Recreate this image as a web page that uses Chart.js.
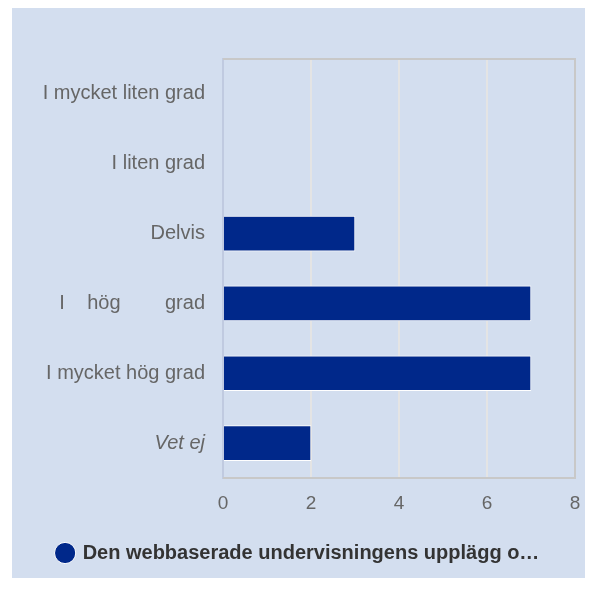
<!DOCTYPE html>
<html lang="sv">
<head>
  <meta charset="UTF-8">
  <title>Webbaserad undervisning</title>
  <style>
    body { margin: 0; background: #ffffff; }
    .panel { position: absolute; left: 12px; top: 8px; width: 573px; height: 570px; background: #d3deef; }
  </style>
</head>
<body>
  <script src="https://cdn.jsdelivr.net/npm/chart.js"></script>

  <div class="panel">
    <canvas id="barChart" width="573" height="570"></canvas>
  </div>

  <script>
    const kategorier = ['I mycket liten grad', 'I liten grad', 'Delvis', 'I    hög        grad', 'I mycket hög grad', 'Vet ej'];
    const antal = [0, 0, 3, 7, 7, 2];
    const xTicks = [0, 2, 4, 6, 8];
    const serieNamn = 'Den webbaserade undervisningens upplägg o…';

    const typsnitt = 'Liberation Sans, Arial, sans-serif';

    // ram runt plotytan (topp, höger, botten)
    const ramPlugin = {
      id: 'ram',
      afterDraw(chart) {
        const a = chart.chartArea;
        const ctx = chart.ctx;
        ctx.save();
        ctx.strokeStyle = '#c8c8c8';
        ctx.lineWidth = 2;
        ctx.beginPath();
        ctx.moveTo(a.left, a.top);
        ctx.lineTo(a.right, a.top);
        ctx.lineTo(a.right, a.bottom);
        ctx.lineTo(a.left, a.bottom);
        ctx.stroke();
        ctx.restore();
      }
    };

    const ctx = document.getElementById('barChart').getContext('2d');
    const barChart = new Chart(ctx, {
      type: 'bar',
      data: {
        labels: kategorier,
        datasets: [{
          label: serieNamn,
          data: antal,
          backgroundColor: '#00288a',
          borderColor: '#ffffff',
          borderWidth: 1,
          barThickness: 35
        }]
      },
      options: {
        indexAxis: 'y',
        responsive: false,
        animation: false,
        layout: { padding: { top: 51, right: 0, bottom: 5, left: 0 } },
        scales: {
          x: {
            min: 0,
            max: 8,
            afterBuildTicks: scale => { scale.ticks = xTicks.map(v => ({ value: v })); },
            afterFit: scale => {
              scale.height = 55;
              scale.paddingLeft = 0;
              scale.paddingRight = 10;
            },
            grid: {
              color: c => c.index === 0 ? 'rgba(0,0,0,0)' : '#e4e4e4',
              lineWidth: 2,
              drawTicks: false
            },
            border: { display: false },
            ticks: {
              padding: 14,
              color: '#666666',
              font: { family: typsnitt, size: 19 }
            }
          },
          y: {
            afterFit: scale => { scale.width = 211; },
            grid: { display: false, drawTicks: false },
            border: { color: 'rgba(190,200,222,0.9)', width: 2 },
            ticks: {
              padding: 18,
              color: '#666666',
              font: c => ({
                family: typsnitt,
                size: 20,
                style: c.index === 5 ? 'italic' : 'normal'
              })
            }
          }
        },
        plugins: {
          legend: {
            position: 'bottom',
            labels: {
              usePointStyle: true,
              pointStyle: 'circle',
              boxWidth: 15,
              boxHeight: 15,
              padding: 10,
              color: '#333333',
              font: { family: typsnitt, size: 20, weight: 'bold' }
            }
          },
          tooltip: { enabled: false }
        }
      },
      plugins: [ramPlugin]
    });
  </script>
</body>
</html>
